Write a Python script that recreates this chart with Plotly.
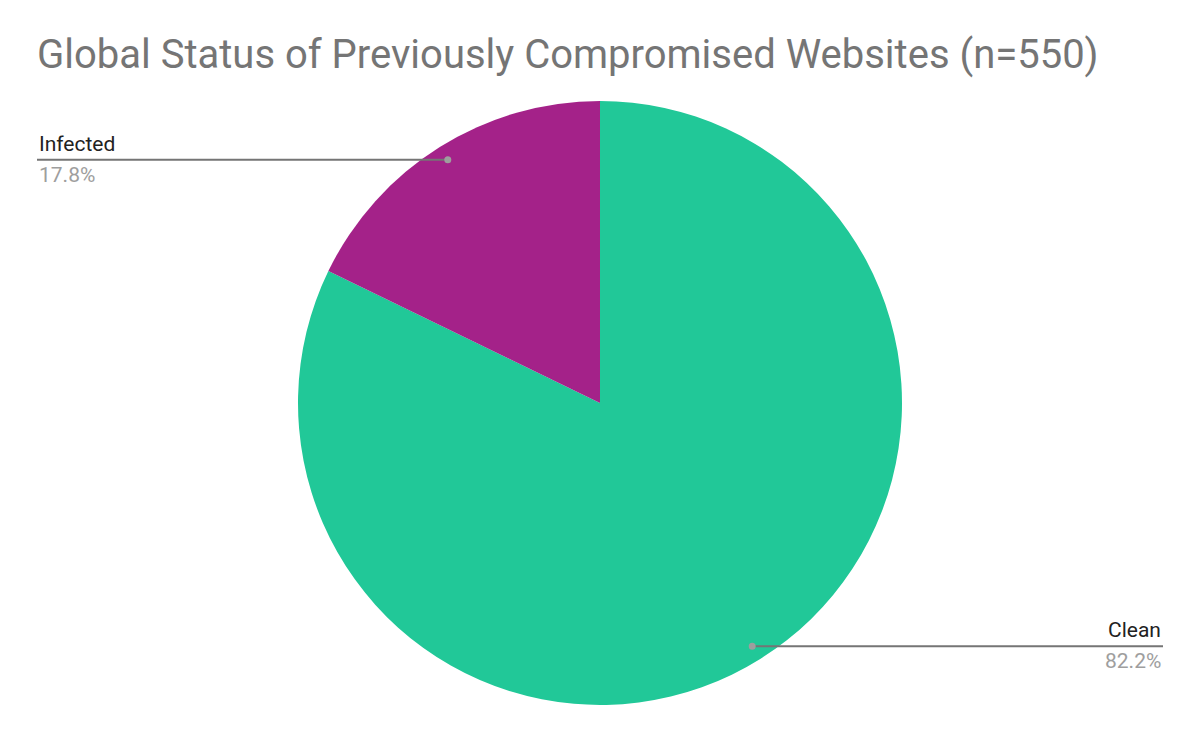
import math
import plotly.graph_objects as go

labels = ["Clean", "Infected"]
values = [82.2, 17.8]
colors = ["#21C898", "#A42289"]
pct_text = ["82.2%", "17.8%"]

W, H = 1200, 742
M_T, M_B, M_L, M_R = 101, 37, 0, 0
plot_h = H - M_T - M_B
cx_px, cy_px = W / 2, M_T + plot_h / 2
R = plot_h / 2

fig = go.Figure(go.Pie(
    labels=labels, values=values, sort=False, direction="clockwise", rotation=0,
    marker=dict(colors=colors, line=dict(width=0)), textinfo="none",
    hoverinfo="label+percent", showlegend=False,
))

def px2paper(x, y):
    return (x - M_L) / (W - M_L - M_R), (H - M_B - y) / plot_h

shapes, annotations = [], []
total = sum(values)
cum = 0
line_ends = {"Clean": 1163, "Infected": 37}
for lab, v, pt in zip(labels, values, pct_text):
    mid = (cum + v / 2) / total * 2 * math.pi
    cum += v
    dx_px = cx_px + 0.95 * R * math.sin(mid)
    dy_px = cy_px - 0.95 * R * math.cos(mid)
    x0, y0 = px2paper(dx_px, dy_px)
    xe, _ = px2paper(line_ends[lab], dy_px)
    shapes.append(dict(type="line", xref="paper", yref="paper", x0=x0, x1=xe, y0=y0, y1=y0,
                       line=dict(color="#757575", width=2)))
    r = 3.5 / plot_h
    rx = 3.5 / W
    shapes.append(dict(type="circle", xref="paper", yref="paper", x0=x0 - rx, x1=x0 + rx,
                       y0=y0 - r, y1=y0 + r, fillcolor="#9E9E9E", line=dict(width=0)))
    anchor = "left" if xe < x0 else "right"
    annotations.append(dict(x=xe, y=y0, xref="paper", yref="paper", text=lab, showarrow=False,
                            xanchor=anchor, yanchor="bottom", yshift=2,
                            font=dict(family="Roboto", size=21, color="#222222")))
    annotations.append(dict(x=xe, y=y0, xref="paper", yref="paper", text=pt, showarrow=False,
                            xanchor=anchor, yanchor="top", yshift=-1,
                            font=dict(family="Roboto", size=21, color="#9E9E9E")))

fig.update_layout(
    width=W, height=H,
    margin=dict(t=M_T, b=M_B, l=M_L, r=M_R),
    paper_bgcolor="white", plot_bgcolor="white",
    title=dict(text="Global Status of Previously Compromised Websites (n=550)",
               x=37 / W, xref="container", xanchor="left",
               y=1 - 54 / H, yref="container", yanchor="middle",
               font=dict(family="Roboto", size=40, color="#757575")),
    shapes=shapes, annotations=annotations,
)
fig.write_html("out.html", config={"displayModeBar": False},
               post_script="document.body.style.margin='0';document.body.style.overflow='hidden';")
